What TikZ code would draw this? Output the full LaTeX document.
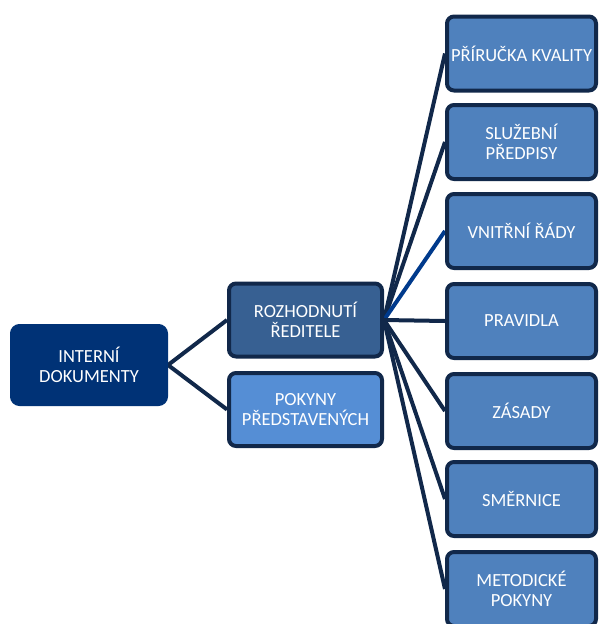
\documentclass[tikz,border=0pt]{standalone}
\usepackage{fontspec}
\setmainfont{Carlito}
\usetikzlibrary{backgrounds}
\definecolor{navy}{HTML}{003276}
\definecolor{rozfill}{HTML}{376092}
\definecolor{pokfill}{HTML}{558ED5}
\definecolor{boxfill}{HTML}{4F81BD}
\definecolor{edgecol}{HTML}{11284A}
\definecolor{bluelink}{HTML}{003A8C}
\tikzset{
  every node/.style={font=\fontsize{18.5}{20.5}\selectfont, text=white, align=center},
  rootbox/.style={fill=navy, draw=navy, line width=1pt, rounded corners=9pt, minimum width=157pt, minimum height=81pt, inner sep=0pt},
  midbox/.style={draw=edgecol, line width=4pt, rounded corners=7pt, minimum width=153pt, minimum height=73pt, inner sep=0pt},
  leafbox/.style={fill=boxfill, draw=edgecol, line width=4pt, rounded corners=7pt, minimum width=149pt, minimum height=74pt, inner sep=0pt},
  link/.style={draw=edgecol, line width=4pt},
}
\begin{document}
\begin{tikzpicture}[x=1pt, y=-1pt]
\useasboundingbox (0,0) rectangle (598,624);
\node[rootbox] (root) at (89,365) {INTERNÍ\\DOKUMENTY};
\node[midbox, fill=rozfill] (roz) at (305.5,320) {ROZHODNUTÍ\\ŘEDITELE};
\node[midbox, fill=pokfill] (pok) at (305.5,409.5) {POKYNY\\PŘEDSTAVENÝCH};
\node[leafbox] (l1) at (521.5,53.5) {PŘÍRUČKA KVALITY};
\node[leafbox] (l2) at (521.5,142) {SLUŽEBNÍ\\PŘEDPISY};
\node[leafbox] (l3) at (521.5,231) {VNITŘNÍ ŘÁDY};
\node[leafbox] (l4) at (521.5,321) {PRAVIDLA};
\node[leafbox] (l5) at (521.5,411) {ZÁSADY};
\node[leafbox] (l6) at (521.5,499) {SMĚRNICE};
\node[leafbox] (l7) at (521.5,589) {METODICKÉ\\POKYNY};
\begin{pgfonlayer}{background}
\draw[link] (root.east) -- (roz.west);
\draw[link] (root.east) -- (pok.west);
\draw[link] (roz.east) -- (l1.west);
\draw[link] (roz.east) -- (l2.west);
\draw[link, draw=bluelink] (roz.east) -- (l3.west);
\draw[link] (roz.east) -- (l4.west);
\draw[link] (roz.east) -- (l5.west);
\draw[link] (roz.east) -- (l6.west);
\draw[link] (roz.east) -- (l7.west);
\end{pgfonlayer}
\end{tikzpicture}
\end{document}
